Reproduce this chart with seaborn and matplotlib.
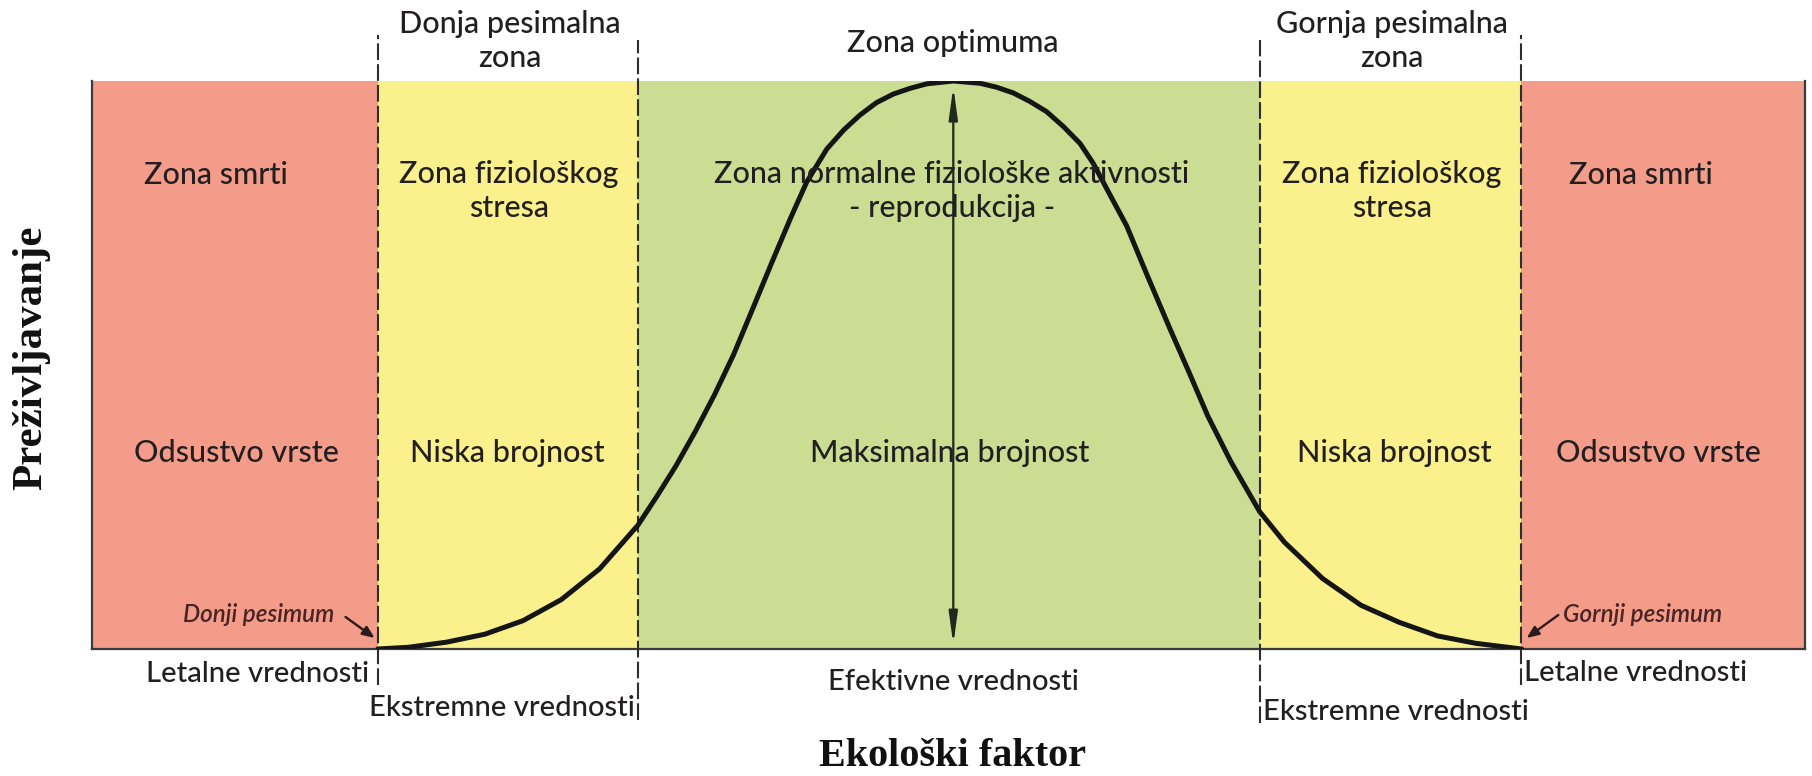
import matplotlib
matplotlib.use('Agg')
import matplotlib.pyplot as plt
import seaborn as sns
import pandas as pd

# granice zona na osi ekoloskog faktora (0-100)
zone_edges = [0, 16.7, 31.9, 68.2, 83.4, 100]
zone_names = ["Zona smrti", "Zona fiziološkog\nstresa",
              "Zona normalne fiziološke aktivnosti\n- reprodukcija -",
              "Zona fiziološkog\nstresa", "Zona smrti"]
zone_counts = ["Odsustvo vrste", "Niska brojnost", "Maksimalna brojnost",
               "Niska brojnost", "Odsustvo vrste"]
top_labels = ["Donja pesimalna\nzona", "Zona optimuma", "Gornja pesimalna\nzona"]
bottom_labels = ["Letalne vrednosti", "Ekstremne vrednosti", "Efektivne vrednosti",
                 "Ekstremne vrednosti", "Letalne vrednosti"]

# kriva preživljavanja (očitano sa slike)
curve_x = [16.68, 18.46, 20.69, 22.93, 25.17, 27.40, 29.63, 31.87, 32.98, 34.10,
           35.22, 36.33, 37.45, 38.57, 39.68, 40.80, 41.72, 42.89, 43.89, 44.83,
           45.80, 46.78, 47.75, 48.73, 50.28, 51.84, 52.81, 53.78, 54.75, 55.73,
           56.70, 57.68, 58.45, 59.42, 60.40, 61.57, 62.91, 64.03, 65.14, 66.48,
           68.16, 69.61, 71.84, 74.08, 76.31, 78.55, 80.78, 83.46]
curve_y = [0.0, 0.003, 0.012, 0.026, 0.050, 0.087, 0.141, 0.218, 0.269, 0.323,
           0.383, 0.447, 0.518, 0.599, 0.680, 0.760, 0.822, 0.880, 0.914, 0.940,
           0.962, 0.977, 0.987, 0.995, 1.0, 0.996, 0.989, 0.979, 0.964, 0.946,
           0.920, 0.890, 0.855, 0.800, 0.745, 0.660, 0.565, 0.488, 0.410, 0.330,
           0.242, 0.188, 0.124, 0.077, 0.047, 0.023, 0.010, 0.0]

zone_colors = ["#F39C8A", "#FAF08C", "#CADD93", "#FAF08C", "#F39C8A"]

sns.set_theme(style="white")
plt.rcParams['font.family'] = ['Lato', 'DejaVu Sans']

W, H = 1812, 776
fig = plt.figure(figsize=(W / 100, H / 100), dpi=100)
ax = fig.add_axes([92 / W, 1 - 649 / H, (1805 - 92) / W, (649 - 81) / H])
ax.set_xlim(0, 100)
ax.set_ylim(0, 1)


def fx(x):
    return x / W


def fy(y):
    return 1 - y / H


def dy(y):
    # piksel reference -> y u podacima
    return (649 - y) / 568


# zone
for i, c in enumerate(zone_colors):
    ax.axvspan(zone_edges[i], zone_edges[i + 1], color=c, lw=0, zorder=0)

# kriva
df = pd.DataFrame({"x": curve_x, "y": curve_y})
sns.lineplot(data=df, x="x", y="y", ax=ax, color="#151515", lw=3.6, sort=False,
             solid_joinstyle="round", solid_capstyle="round", zorder=4)

# isprekidane granice
ext = {1: (1.081, dy(685)), 2: (1.072, dy(720)), 3: (1.072, dy(723)), 4: (1.081, dy(685))}
for i in range(1, 5):
    top, bot = ext[i]
    ax.plot([zone_edges[i], zone_edges[i]], [bot, top], color="#2e2e2e", lw=1.5,
            ls=(0, (8, 2)), clip_on=False, zorder=3)

# strelica za maksimum
peak_x = curve_x[curve_y.index(max(curve_y))]
ax.annotate("", xy=(peak_x, 0.008), xytext=(peak_x, max(curve_y) - 0.01),
            arrowprops=dict(arrowstyle="<|-|>,head_length=1.6,head_width=0.22",
                            color="#1d2a1d", lw=1.6, shrinkA=0, shrinkB=0), zorder=5)

# strelice za pesimume
ax.annotate("", xy=(zone_edges[1] - 0.2, dy(638)), xytext=(zone_edges[1] - 1.9, dy(617)),
            arrowprops=dict(arrowstyle="-|>,head_length=0.6,head_width=0.25",
                            color="#2a1a1a", lw=1.7, shrinkA=0, shrinkB=0), zorder=5)
ax.annotate("", xy=(zone_edges[4] + 0.35, dy(638)), xytext=(zone_edges[4] + 2.2, dy(615)),
            arrowprops=dict(arrowstyle="-|>,head_length=0.6,head_width=0.25",
                            color="#2a1a1a", lw=1.7, shrinkA=0, shrinkB=0), zorder=5)

for s in ["left", "right", "bottom"]:
    ax.spines[s].set_color("#3a3a3a")
    ax.spines[s].set_linewidth(1.6)
ax.spines["top"].set_visible(False)
ax.set_xticks([])
ax.set_yticks([])
ax.set_xlabel("")
ax.set_ylabel("")

txt = "#231f20"
fs = 22
fw = "medium"

# nazivi zona
name_x = [216, 509, 952, 1392, 1641]
for x, t in zip(name_x, zone_names):
    if "\n" in t:
        fig.text(fx(x), fy(160), t, ha="center", va="top", fontsize=fs, color=txt,
                 fontweight=fw, linespacing=1.25)
    else:
        fig.text(fx(x), fy(175), t, ha="center", va="center", fontsize=fs, color=txt,
                 fontweight=fw)

count_x = [236, 507, 950, 1394, 1658]
for x, t in zip(count_x, zone_counts):
    fig.text(fx(x), fy(453), t, ha="center", va="center", fontsize=fs, color=txt,
             fontweight=fw)

# gornje oznake
fig.text(fx(510), fy(10), top_labels[0], ha="center", va="top", fontsize=fs,
         color=txt, fontweight=fw, linespacing=1.25)
fig.text(fx(953), fy(43), top_labels[1], ha="center", va="center", fontsize=fs,
         color=txt, fontweight=fw)
fig.text(fx(1392), fy(10), top_labels[2], ha="center", va="top", fontsize=fs,
         color=txt, fontweight=fw, linespacing=1.25)

# donje oznake
fs2 = 21
fig.text(fx(369), fy(674), bottom_labels[0], ha="right", va="center", fontsize=fs2,
         color=txt, fontweight=fw)
fig.text(fx(635), fy(708), bottom_labels[1], ha="right", va="center", fontsize=fs2,
         color=txt, fontweight=fw)
fig.text(fx(953), fy(682), bottom_labels[2], ha="center", va="center", fontsize=fs2,
         color=txt, fontweight=fw)
fig.text(fx(1263), fy(712), bottom_labels[3], ha="left", va="center", fontsize=fs2,
         color=txt, fontweight=fw)
fig.text(fx(1524), fy(673), bottom_labels[4], ha="left", va="center", fontsize=fs2,
         color=txt, fontweight=fw)

# pesimumi
fig.text(fx(334), fy(615), "Donji pesimum", ha="right", va="center", fontsize=17.5,
         style="italic", fontweight="semibold", color="#4a2424")
fig.text(fx(1563), fy(615), "Gornji pesimum", ha="left", va="center", fontsize=17.5,
         style="italic", fontweight="semibold", color="#4a2424")

# nazivi osa
fig.text(fx(953), fy(757), "Ekološki faktor", ha="center", va="center", fontsize=29,
         fontweight="bold", family=["Liberation Serif", "DejaVu Serif"], color="#111")
fig.text(fx(31), fy(358), "Preživljavanje", ha="center", va="center", fontsize=31,
         fontweight="bold", rotation=90, family=["Liberation Serif", "DejaVu Serif"],
         color="#111")

fig.savefig("out.png", dpi=100, facecolor="white")
